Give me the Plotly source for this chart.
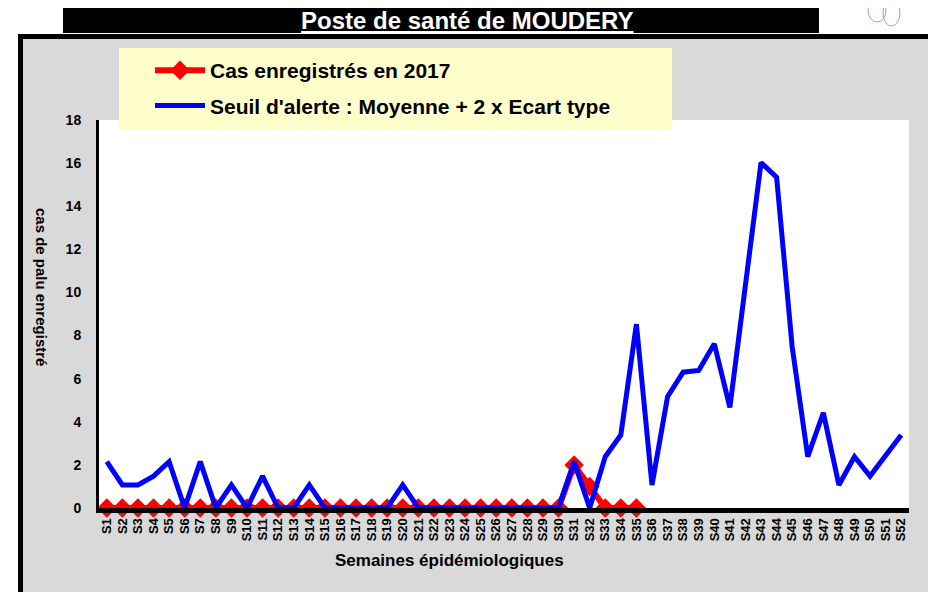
import plotly.graph_objects as go

weeks = [f"S{i}" for i in range(1, 53)]

cas_2017 = [0, 0, 0, 0, 0, 0, 0, 0, 0, 0,
            0, 0, 0, 0, 0, 0, 0, 0, 0, 0,
            0, 0, 0, 0, 0, 0, 0, 0, 0, 0,
            2, 1, 0, 0, 0]

seuil = [2.15, 1.07, 1.07, 1.48, 2.15, 0, 2.15, 0, 1.07, 0,
         1.48, 0, 0, 1.07, 0, 0, 0, 0, 0, 1.07,
         0, 0, 0, 0, 0, 0, 0, 0, 0, 0,
         2.15, 0, 2.38, 3.39, 8.53, 1.07, 5.16, 6.3, 6.38, 7.62,
         4.67, 10.4, 16.02, 15.35, 7.48, 2.38, 4.42, 1.07, 2.38, 1.48,
         2.4, 3.39]

y_ticks = [0, 2, 4, 6, 8, 10, 12, 14, 16, 18]

# page body has an 8px margin: the figure starts at (8, 8) in the window
OFF = 8
W, H = 936 - OFF, 592 - OFF
# plot area in window pixels
L, R, T, B = 99, 909, 120, 508
PW, PH = R - L, B - T


def px(x):
    return (x - L) / PW


def py(y):
    return (B - y) / PH


FONT = "Liberation Sans"

fig = go.Figure()
fig.add_trace(go.Scatter(
    x=weeks[:len(cas_2017)], y=cas_2017, name="Cas enregistrés en 2017",
    mode="lines+markers", line=dict(color="#ff0000", width=6),
    marker=dict(symbol="diamond", size=15, color="#ff0000"),
    cliponaxis=False, legendgroup="a"))
fig.add_trace(go.Scatter(
    x=weeks, y=seuil, name="Seuil d'alerte : Moyenne + 2 x Ecart type",
    mode="lines", line=dict(color="#0000ff", width=5),
    cliponaxis=False, legendgroup="b"))

shapes = [
    # grey chart area with black border
    dict(type="rect", xref="paper", yref="paper", layer="below",
         x0=px(20.5), x1=px(960), y0=py(620), y1=py(36.5),
         fillcolor="#d9d9d9", line=dict(color="black", width=5)),
    # white plot area
    dict(type="rect", xref="paper", yref="paper", layer="below",
         x0=0, x1=1, y0=0, y1=1, fillcolor="white", line=dict(width=0)),
    # legend box
    dict(type="rect", xref="paper", yref="paper", layer="below",
         x0=px(119), x1=px(672), y0=py(129), y1=py(48),
         fillcolor="#ffffcc", line=dict(width=0)),
    # title band
    dict(type="rect", xref="paper", yref="paper", layer="below",
         x0=px(63), x1=px(819), y0=py(33), y1=py(0),
         fillcolor="black", line=dict(width=0)),
    # logo fragments
    dict(type="circle", xref="paper", yref="paper", layer="below",
         x0=px(822), x1=px(852), y0=py(6), y1=py(-20),
         fillcolor="#ff0000", line=dict(width=0)),
    dict(type="circle", xref="paper", yref="paper", layer="below",
         x0=px(868), x1=px(886), y0=py(22), y1=py(-2),
         fillcolor="rgba(0,0,0,0)", line=dict(color="#d98aa0", width=1)),
    dict(type="circle", xref="paper", yref="paper", layer="below",
         x0=px(883), x1=px(900), y0=py(26), y1=py(0),
         fillcolor="rgba(0,0,0,0)", line=dict(color="#d98aa0", width=1)),
    dict(type="circle", xref="paper", yref="paper", layer="below",
         x0=px(898), x1=px(920), y0=py(6), y1=py(-10),
         fillcolor="rgba(0,0,0,0)", line=dict(color="#d98aa0", width=1)),
]

annotations = [
    dict(text="<u>Poste de santé de MOUDERY</u>", xref="paper", yref="paper",
         x=px(467), y=py(20), xanchor="center", yanchor="middle",
         showarrow=False, font=dict(family=FONT, size=24, color="white", weight="bold")),
    dict(text="cas de palu enregistré", xref="paper", yref="paper",
         x=px(42), y=py(287), xanchor="center", yanchor="middle", textangle=90,
         showarrow=False, font=dict(family=FONT, size=15, color="black", weight="bold")),
    dict(text="Semaines épidémiologiques", xref="paper", yref="paper",
         x=px(449), y=py(560), xanchor="center", yanchor="middle",
         showarrow=False, font=dict(family=FONT, size=17, color="black", weight="bold")),
]

fig.update_layout(
    width=W, height=H,
    margin=dict(l=L - OFF, r=W - (R - OFF), t=T - OFF, b=H - (B - OFF)),
    paper_bgcolor="white", plot_bgcolor="rgba(0,0,0,0)",
    showlegend=True,
    legend=dict(x=px(150), y=py(50), xanchor="left", yanchor="top",
                bgcolor="rgba(0,0,0,0)", tracegroupgap=5,
                font=dict(family=FONT, size=21, color="black", weight="bold"),
                itemwidth=50),
    shapes=shapes, annotations=annotations,
    xaxis=dict(type="category", categoryarray=weeks, range=[-0.5, 51.5],
               tickmode="array", tickvals=weeks, ticktext=weeks,
               showgrid=False, zeroline=False, showline=True,
               linecolor="black", linewidth=5, tickangle=-90, ticks="",
               tickfont=dict(family=FONT, size=13, color="black", weight="bold")),
    yaxis=dict(range=[0, 18], tickvals=y_ticks, showgrid=False, zeroline=False,
               showline=True, linecolor="black", linewidth=3,
               ticks="outside", ticklen=12, tickcolor="rgba(0,0,0,0)",
               tickfont=dict(family=FONT, size=14, color="black", weight="bold")),
)

fig.write_html("out.html")
